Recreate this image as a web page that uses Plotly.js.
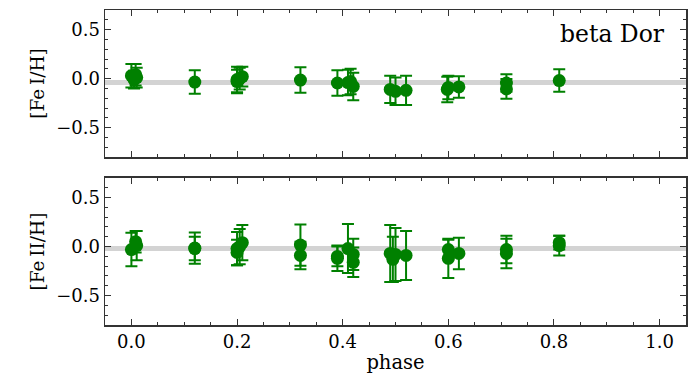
<!DOCTYPE html>
<html>
<head>
<meta charset="utf-8">
<script src="https://cdn.plot.ly/plotly-3.0.1.min.js"></script>
<style>
  body { margin: 0; background: #fff; }
  #plot { width: 700px; height: 379px; }
</style>
</head>
<body>
<div id="plot"></div>
<script>
// [Fe I/H] per phase
const phaseFe1 = [0.000, 0.008, 0.005, 0.010, 0.12, 0.200, 0.205, 0.210, 0.200, 0.32,
                  0.39, 0.410, 0.415, 0.420, 0.49, 0.500, 0.520, 0.600, 0.598, 0.620,
                  0.71, 0.710, 0.81];
const fe1 = [0.03, 0.04, -0.01, 0.01, -0.035, -0.03, 0.00, 0.02, -0.01, -0.015,
             -0.045, -0.04, -0.03, -0.08, -0.11, -0.13, -0.12, -0.09, -0.11, -0.085,
             -0.045, -0.105, -0.02];
const errFe1 = [0.12, 0.11, 0.09, 0.10, 0.12, 0.12, 0.11, 0.10, 0.13, 0.13,
                0.13, 0.13, 0.13, 0.14, 0.14, 0.14, 0.15, 0.12, 0.13, 0.11,
                0.09, 0.10, 0.115];

// [Fe II/H] per phase
const phaseFe2 = [0.000, 0.008, 0.010, 0.12, 0.12, 0.200, 0.205, 0.210, 0.200, 0.32,
                  0.32, 0.39, 0.39, 0.410, 0.420, 0.420, 0.49, 0.495, 0.500, 0.520,
                  0.60, 0.60, 0.62, 0.71, 0.71, 0.81, 0.81];
const fe2 = [-0.03, 0.05, 0.01, -0.015, -0.02, -0.06, 0.00, 0.04, -0.02, 0.015,
             -0.09, -0.12, -0.10, -0.02, -0.08, -0.16, -0.07, -0.13, -0.08, -0.09,
             -0.03, -0.12, -0.07, -0.03, -0.07, 0.04, 0.01];
const errFe2 = [0.17, 0.11, 0.15, 0.16, 0.12, 0.13, 0.18, 0.18, 0.17, 0.21,
                0.14, 0.13, 0.10, 0.25, 0.16, 0.15, 0.29, 0.23, 0.27, 0.25,
                0.10, 0.20, 0.16, 0.14, 0.15, 0.07, 0.10];

// mean levels (gray reference lines)
const meanFe1 = -0.04;
const meanFe2 = -0.02;

const green = 'green';
const font = 'DejaVu Serif, serif';

function errTrace(x, y, err, xa, ya) {
  return {
    x: x, y: y, xaxis: xa, yaxis: ya,
    type: 'scatter', mode: 'markers',
    marker: {color: green, size: 13},
    error_y: {type: 'data', array: err, visible: true, color: green, thickness: 2, width: 6},
    showlegend: false, hoverinfo: 'x+y'
  };
}

const data = [
  errTrace(phaseFe1, fe1, errFe1, 'x', 'y'),
  errTrace(phaseFe2, fe2, errFe2, 'x2', 'y2')
];

function xAxis(anchor, labels) {
  return {
    anchor: anchor, range: [-0.05, 1.05], dtick: 0.2, tick0: 0,
    ticks: 'inside', ticklen: 6, tickwidth: 1, tickcolor: '#333',
    showline: true, linecolor: '#333', linewidth: 1.5, mirror: 'allticks',
    showgrid: false, zeroline: false, showticklabels: labels,
    tickformat: '.1f',
    minor: {dtick: 0.05, ticks: 'inside', ticklen: 3, tickcolor: '#333', showgrid: false},
    tickfont: {family: font, size: 18, color: '#000'}
  };
}
function yAxis(domain, anchor, title) {
  return {
    domain: domain, anchor: anchor, range: [-0.8, 0.7], dtick: 0.5, tick0: 0,
    ticks: 'inside', ticklen: 6, tickwidth: 1, tickcolor: '#333',
    showline: true, linecolor: '#333', linewidth: 1.5, mirror: 'allticks',
    showgrid: false, zeroline: false, tickformat: '.1f',
    minor: {dtick: 0.1, ticks: 'inside', ticklen: 3, tickcolor: '#333', showgrid: false},
    tickfont: {family: font, size: 18, color: '#000'},
    title: {text: title, font: {family: font, size: 18.5, color: '#000'}, standoff: 6}
  };
}

const layout = {
  width: 700, height: 379,
  margin: {l: 105, r: 14, t: 10, b: 54},
  paper_bgcolor: '#fff', plot_bgcolor: '#fff',
  xaxis: xAxis('y', false),
  yaxis: yAxis([0.5333, 1], 'x', '[Fe\u2009I/H]'),
  xaxis2: Object.assign(xAxis('y2', true), {
    matches: 'x',
    title: {text: 'phase', font: {family: font, size: 19.5, color: '#000'}, standoff: 4}
  }),
  yaxis2: yAxis([0, 0.4667], 'x2', '[Fe\u2009II/H]'),
  shapes: [
    {type: 'line', xref: 'x domain', x0: 0, x1: 1, yref: 'y', y0: meanFe1, y1: meanFe1,
     line: {color: '#d3d3d3', width: 5}, layer: 'below'},
    {type: 'line', xref: 'x2 domain', x0: 0, x1: 1, yref: 'y2', y0: meanFe2, y1: meanFe2,
     line: {color: '#d3d3d3', width: 5}, layer: 'below'}
  ],
  annotations: [
    {text: 'beta Dor', xref: 'x domain', yref: 'y domain', x: 0.968, y: 0.84,
     xanchor: 'right', yanchor: 'middle', showarrow: false,
     font: {family: font, size: 23.5, color: '#000'}}
  ]
};

Plotly.newPlot('plot', data, layout, {staticPlot: true});
</script>
</body>
</html>
